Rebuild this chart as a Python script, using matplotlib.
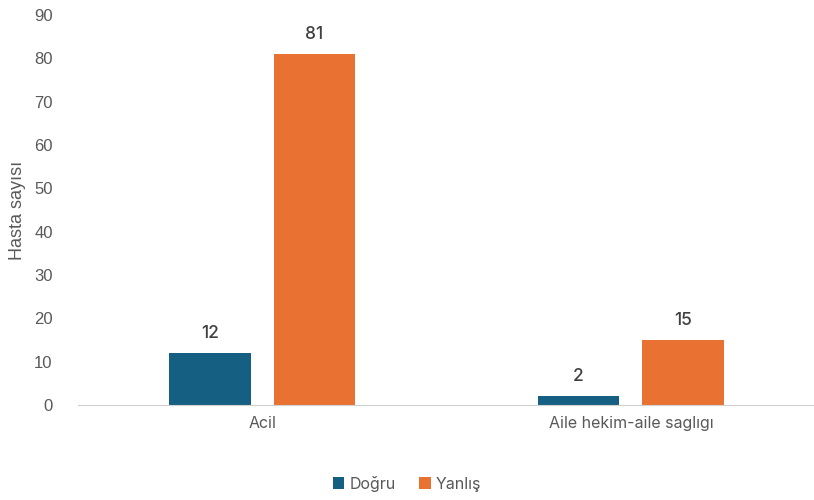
import numpy as np
import matplotlib.pyplot as plt

categories = ["Acil", "Aile hekim-aile sagl\u0131g\u0131"]
dogru = [12, 2]
yanlis = [81, 15]
series_names = ["Do\u011fru", "Yanl\u0131\u015f"]

plt.rcParams['font.family'] = ['Inter', 'DejaVu Sans']
text_color = '#595959'

fig = plt.figure(figsize=(8.14, 5.0), dpi=100)
ax = fig.add_axes([0.0955, 0.19, 0.906, 0.78])

x = np.arange(len(categories))
width = 0.222
offset = 0.142
b1 = ax.bar(x - offset, dogru, width, color='#156082', label=series_names[0])
b2 = ax.bar(x + offset, yanlis, width, color='#E97132', label=series_names[1])

for bars in (b1, b2):
    ax.bar_label(bars, padding=8, fontsize=12.5, color='#404040', fontweight='medium')

ax.set_xlim(-0.5, 1.5)
ax.set_ylim(0, 90)
ax.set_yticks(range(0, 91, 10))
ax.set_xticks(x)
ax.set_xticklabels(categories)
ax.tick_params(axis='both', length=0, labelsize=11.5, colors=text_color, pad=8)
ax.tick_params(axis='y', pad=18)
for lbl in ax.get_yticklabels():
    lbl.set_family(['Liberation Sans', 'DejaVu Sans'])
    lbl.set_fontsize(12)

for side in ('top', 'right', 'left'):
    ax.spines[side].set_visible(False)
ax.spines['bottom'].set_color('#d0d0d0')

ax.set_ylabel("Hasta say\u0131s\u0131", fontsize=13, color=text_color, labelpad=6,
              family=['Liberation Sans', 'DejaVu Sans'])

fig.legend(loc='lower center', ncol=2, frameon=False, fontsize=11.5,
           labelcolor=text_color, handlelength=0.7, handleheight=0.7,
           handletextpad=0.3, columnspacing=1.5, bbox_to_anchor=(0.5, -0.012))

fig.savefig('out.png', dpi=100)
